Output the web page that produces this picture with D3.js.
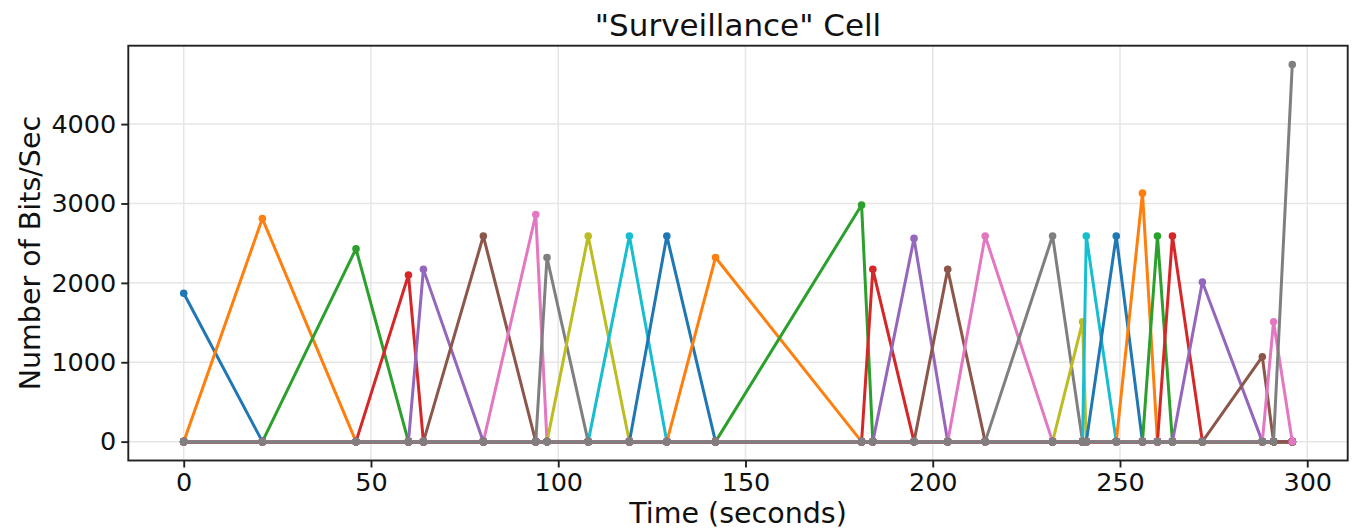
<!DOCTYPE html>
<html>
<head>
<meta charset="utf-8">
<script src="https://cdn.jsdelivr.net/npm/d3@7"></script>
<style>
  body { margin: 0; background: #fff; }
  svg { display: block; font-family: "DejaVu Sans", sans-serif; }
</style>
</head>
<body>
<svg width="1352" height="530"></svg>
<script>
// each series is zero at every sample time except its own peak
let times = [0, 21, 46, 60, 64, 80, 94, 97, 108, 119, 129, 142, 181, 184,
             195, 204, 214, 232, 240, 241, 249, 256, 260, 264, 272, 288, 291, 296];
let peaks = [1870, 2810, 2430, 2100, 2170, 2590, 2860, 2320, 2590, 2590, 2590, 2320, 2980, 2170,
             2560, 2170, 2590, 2590, 1510, 2590, 2590, 3130, 2590, 2590, 2010, 1070, 1510, 4750];
let xTicks = [0, 50, 100, 150, 200, 250, 300];
let yTicks = [0, 1000, 2000, 3000, 4000];
let colors = ['#1f77b4', '#ff7f0e', '#2ca02c', '#d62728', '#9467bd',
              '#8c564b', '#e377c2', '#7f7f7f', '#bcbd22', '#17becf'];

let svg = d3.select('svg');
let plotL = 128.3, plotR = 1347.7, plotT = 45.7, plotB = 460.5;

let xPad = (d3.max(times) - d3.min(times)) * 0.05;
let yPad = d3.max(peaks) * 0.05;
let scaleX = d3.scaleLinear().domain([d3.min(times) - xPad, d3.max(times) + xPad]).range([plotL, plotR]);
let scaleY = d3.scaleLinear().domain([-yPad, d3.max(peaks) + yPad]).range([plotB, plotT]);

// grid
svg.append('g').selectAll('line')
    .data(xTicks).enter().append('line')
    .attr('x1', d => scaleX(d)).attr('x2', d => scaleX(d))
    .attr('y1', plotT).attr('y2', plotB)
    .attr('stroke', '#e6e6e6').attr('stroke-width', 1.5);
svg.append('g').selectAll('line')
    .data(yTicks).enter().append('line')
    .attr('x1', plotL).attr('x2', plotR)
    .attr('y1', d => scaleY(d)).attr('y2', d => scaleY(d))
    .attr('stroke', '#e6e6e6').attr('stroke-width', 1.5);

let lineFn = d3.line()
    .x(d => scaleX(d[0]))
    .y(d => scaleY(d[1]));

peaks.forEach(function(peak, i) {
    let pts = times.map((t, j) => [t, j === i ? peak : 0]);
    let c = colors[i % colors.length];
    let g = svg.append('g');
    g.append('path')
        .datum(pts)
        .attr('d', lineFn)
        .attr('fill', 'none')
        .attr('stroke', c)
        .attr('stroke-width', 3)
        .attr('stroke-linejoin', 'round');
    g.selectAll('circle')
        .data(pts).enter().append('circle')
        .attr('cx', d => scaleX(d[0]))
        .attr('cy', d => scaleY(d[1]))
        .attr('r', 3.8)
        .attr('fill', c);
});

// axes
let xAxis = svg.append('g')
    .attr('transform', 'translate(0,' + plotB + ')')
    .call(d3.axisBottom(scaleX).tickValues(xTicks).tickSize(7).tickPadding(5));
let yAxis = svg.append('g')
    .attr('transform', 'translate(' + plotL + ',0)')
    .call(d3.axisLeft(scaleY).tickValues(yTicks).tickSize(7).tickPadding(5).tickFormat(d3.format('d')));
[xAxis, yAxis].forEach(a => {
    a.select('.domain').remove();
    a.selectAll('line').attr('stroke', '#222').attr('stroke-width', 1.9);
    a.selectAll('text').attr('font-size', 25.5).attr('fill', '#111')
        .attr('font-family', '"DejaVu Sans", sans-serif');
});

svg.append('rect')
    .attr('x', plotL).attr('y', plotT)
    .attr('width', plotR - plotL).attr('height', plotB - plotT)
    .attr('fill', 'none').attr('stroke', '#222').attr('stroke-width', 1.9);

svg.append('text')
    .attr('x', (plotL + plotR) / 2).attr('y', 36)
    .attr('text-anchor', 'middle')
    .attr('font-size', 31).attr('fill', '#111')
    .text('"Surveillance" Cell');

svg.append('text')
    .attr('x', (plotL + plotR) / 2).attr('y', 523)
    .attr('text-anchor', 'middle')
    .attr('font-size', 28.5).attr('fill', '#111')
    .text('Time (seconds)');

svg.append('text')
    .attr('transform', 'translate(40,' + (plotT + plotB) / 2 + ') rotate(-90)')
    .attr('text-anchor', 'middle')
    .attr('font-size', 28.5).attr('fill', '#111')
    .text('Number of Bits/Sec');
</script>
</body>
</html>
